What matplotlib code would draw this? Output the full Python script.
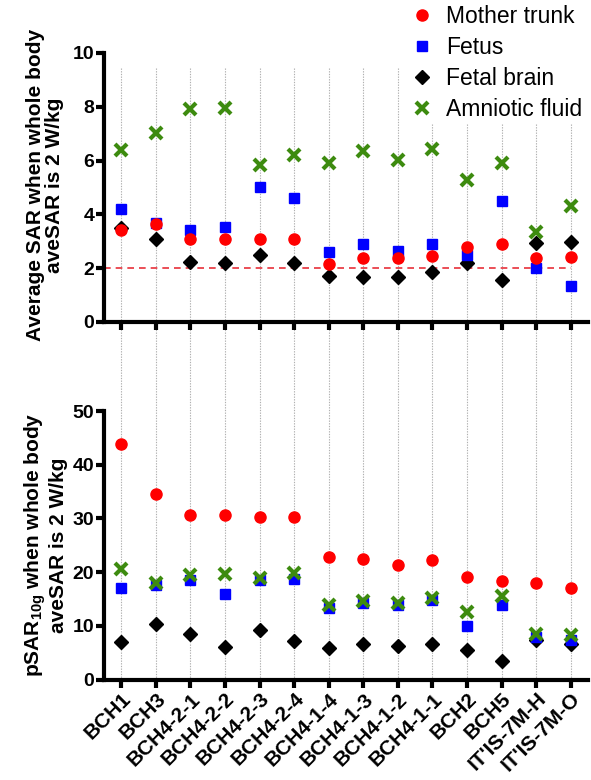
import matplotlib
matplotlib.use("Agg")
import matplotlib.pyplot as plt
import numpy as np

plt.rcParams['font.family'] = ['Liberation Sans', 'DejaVu Sans']
plt.rcParams['mathtext.fontset'] = 'custom'
plt.rcParams['mathtext.rm'] = 'Liberation Sans'
plt.rcParams['mathtext.bf'] = 'Liberation Sans:bold'

models = ["BCH1", "BCH3", "BCH4-2-1", "BCH4-2-2", "BCH4-2-3", "BCH4-2-4",
          "BCH4-1-4", "BCH4-1-3", "BCH4-1-2", "BCH4-1-1", "BCH2", "BCH5",
          "IT'IS-7M-H", "IT'IS-7M-O"]

# average SAR (W/kg)
avg_mother = [3.42, 3.64, 3.08, 3.08, 3.08, 3.08, 2.14, 2.37, 2.39, 2.45, 2.80, 2.89, 2.39, 2.40]
avg_fetus = [4.20, 3.68, 3.42, 3.53, 5.00, 4.60, 2.61, 2.90, 2.65, 2.90, 2.49, 4.51, 2.00, 1.35]
avg_brain = [3.50, 3.07, 2.22, 2.18, 2.49, 2.18, 1.72, 1.69, 1.66, 1.84, 2.18, 1.56, 2.93, 2.99]
avg_amnio = [6.39, 7.01, 7.92, 7.95, 5.84, 6.19, 5.90, 6.37, 6.02, 6.42, 5.28, 5.90, 3.36, 4.31]

# pSAR10g (W/kg)
psar_mother = [43.9, 34.5, 30.6, 30.6, 30.2, 30.3, 22.8, 22.4, 21.4, 22.2, 19.1, 18.3, 17.9, 17.1]
psar_fetus = [17.0, 17.6, 18.5, 16.0, 18.6, 18.8, 13.4, 14.2, 13.8, 14.8, 10.0, 13.9, 8.0, 7.4]
psar_brain = [7.0, 10.3, 8.5, 6.1, 9.2, 7.1, 5.8, 6.6, 6.3, 6.7, 5.5, 3.4, 7.4, 6.6]
psar_amnio = [20.5, 17.9, 19.5, 19.6, 19.0, 19.8, 13.9, 14.6, 14.2, 15.2, 12.6, 15.5, 8.5, 8.3]

red = '#ff0000'
blue = '#0000ff'
green = '#3d8b0f'

fig = plt.figure(figsize=(5.91, 7.80), dpi=100)
x = np.arange(len(models))
xlim = (-0.5, 13.5)

# dotted guide lines running through both panels
bg = fig.add_axes([0.176, 0.1288, 0.819, 0.9141 - 0.1288])
bg.set_xlim(*xlim)
bg.set_ylim(0, 1)
bg.axis('off')
for xi in x:
    bg.axvline(xi, color='#b0b0b0', lw=0.8, ls=(0, (1.2, 1.2)))

ax1 = fig.add_axes([0.176, 0.5872, 0.819, 0.3449])
ax2 = fig.add_axes([0.176, 0.1288, 0.819, 0.3442])

def style(ax):
    ax.patch.set_alpha(0)
    ax.set_xlim(*xlim)
    ax.spines['top'].set_visible(False)
    ax.spines['right'].set_visible(False)
    ax.spines['left'].set_linewidth(3)
    ax.spines['bottom'].set_linewidth(3)
    ax.tick_params(axis='both', width=3, length=6, labelsize=14, pad=1)
    ax.set_xticks(x)
    for lab in ax.get_yticklabels():
        lab.set_fontweight('bold')

def draw(ax, mother, fetus, brain, amnio):
    ax.plot(x, brain, 'D', color='black', ms=7.5, label='Fetal brain', zorder=3)
    ax.plot(x, fetus, 's', color=blue, ms=7.5, label='Fetus', zorder=4)
    ax.plot(x, mother, 'o', color=red, ms=8, label='Mother trunk', zorder=5)
    ax.plot(x, amnio, 'x', color=green, ms=8, mew=3, label='Amniotic fluid', zorder=6)

draw(ax1, avg_mother, avg_fetus, avg_brain, avg_amnio)
ax1.plot([-0.5, 13], [2, 2], color='#e8303a', lw=1.2, ls=(0, (4, 3)), zorder=2)
ax1.set_ylim(0, 10)
ax1.set_yticks([0, 2, 4, 6, 8, 10])
style(ax1)
ax1.set_xticklabels([])

draw(ax2, psar_mother, psar_fetus, psar_brain, psar_amnio)
ax2.set_ylim(0, 50)
ax2.set_yticks([0, 10, 20, 30, 40, 50])
style(ax2)
ax2.set_xticklabels(models, rotation=45, ha='right', rotation_mode='anchor',
                    fontsize=15, fontweight='bold')

fig.text(45 / 591, 1 - 185 / 780, "Average SAR when whole body\naveSAR is 2 W/kg",
         rotation=90, ha='center', va='center', fontsize=15, fontweight='bold',
         multialignment='center', linespacing=1.05)
fig.text(45 / 591, 1 - 545 / 780, "pSAR$_{\\mathbf{10g}}$ when whole body\naveSAR is 2 W/kg",
         rotation=90, ha='center', va='center', fontsize=15, fontweight='bold',
         multialignment='center', linespacing=1.05)

h, l = ax1.get_legend_handles_labels()
order = [2, 1, 0, 3]
leg = fig.legend([h[i] for i in order], [l[i] for i in order], loc='upper left',
                 bbox_to_anchor=(408 / 591, 0.997), fontsize=16.5, frameon=True,
                 handlelength=1.0, handletextpad=0.55, labelspacing=0.36,
                 borderpad=0.1, borderaxespad=0)
leg.get_frame().set_edgecolor('none')
leg.get_frame().set_facecolor('white')
leg.get_frame().set_alpha(1)

fig.savefig("out.png", dpi=100)
